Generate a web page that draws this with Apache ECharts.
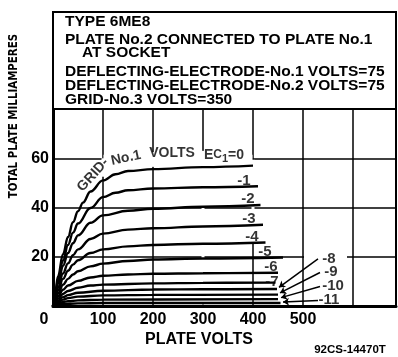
<!DOCTYPE html>
<html><head><meta charset="utf-8">
<script src="https://cdn.jsdelivr.net/npm/echarts@6/dist/echarts.min.js"></script>
<style>html,body{margin:0;padding:0;background:#fff}#c{width:398px;height:357px}</style>
</head><body><div id="c"></div>
<script>
// ---- data ----
const xTicks = [0, 100, 200, 300, 400, 500];
const yTicks = [20, 40, 60];
const gridVoltsLabels = ['0', '-1', '-2', '-3', '-4', '-5', '-6', '-7', '-8', '-9', '-10', '-11'];
const c0  = [[0,0],[5,6.5],[10,12],[20,21],[30,28],[40,34],[50,38.5],[60,42],[75,46.5],[100,51],[125,53.5],[150,54.8],[200,55.6],[300,56.4],[400,57]];
const c1  = [[0,0],[5,5.8],[10,10.5],[20,18.5],[30,24.8],[40,29.8],[50,33.5],[75,39.8],[100,44.2],[125,46],[150,47],[200,47.7],[300,48.2],[410,48.6]];
const c2  = [[0,0],[5,5],[10,9.2],[20,16.3],[30,21.5],[40,25.5],[50,28.7],[75,33.8],[100,36.8],[150,38.7],[200,39.5],[300,40.3],[415,41]];
const c3  = [[0,0],[5,4.2],[10,7.6],[20,13.2],[30,17.3],[40,20.6],[50,23],[75,27.2],[100,29.4],[150,31],[200,31.6],[300,32.3],[420,33]];
const c4  = [[0,0],[5,3.5],[10,6.4],[20,11],[30,14.3],[40,16.8],[50,18.6],[75,21.5],[100,23],[150,24.2],[200,24.8],[300,25.3],[425,25.8]];
const c5  = [[0,0],[5,2.8],[10,5.1],[20,8.6],[30,11],[40,12.8],[50,14.1],[75,16.1],[100,17.2],[150,18.3],[200,18.9],[300,19.3],[460,19.7]];
const c6  = [[0,0],[5,2.2],[10,4],[20,6.6],[30,8.3],[50,10.2],[75,11.6],[100,12.3],[150,12.8],[200,13.1],[300,13.3],[450,13.5]];
const c7  = [[0,0],[5,1.7],[10,3],[20,4.9],[30,6.1],[50,7.4],[75,8.3],[100,8.7],[200,9.2],[300,9.4],[445,9.5]];
const c8  = [[0,0],[5,1.2],[10,2.2],[20,3.6],[30,4.4],[50,5.4],[100,6.2],[200,6.7],[300,6.8],[448,6.9]];
const c9  = [[0,0],[5,0.9],[10,1.6],[20,2.6],[30,3.2],[50,3.8],[100,4.3],[200,4.5],[450,4.6]];
const c10 = [[0,0],[5,0.6],[10,1],[20,1.6],[30,1.9],[50,2.3],[100,2.6],[450,2.8]];
const c11 = [[0,0],[5,0.3],[10,0.5],[20,0.8],[50,1.05],[100,1.2],[455,1.2]];
const curves = [c0, c1, c2, c3, c4, c5, c6, c7, c8, c9, c10, c11];
// curve labels: [volts, mA, text]
const curveLabels = [[382,50.9,'-1'],[390,43.4,'-2'],[392,35.3,'-3'],[398,28,'-4'],[424,21.9,'-5'],[436,15.8,'-6'],[438,9.9,'-7'],[552,19.1,'-8'],[556,13.8,'-9'],[560,8.1,'-10'],[552,2.4,'-11']];
// leader lines: [fromV, fromMA, toV, toMA]
const leaders = [[530,19.1,452,7.6],[534,13.6,454,5.3],[534,7.9,456,3.4],[530,2.2,460,1.6]];
// "GRID-No.1 VOLTS Ec1=0" pieces: [volts, mA, text, rotation]
const gridTitle = [[80,53.2,'GRID-',48],[146,60.1,'No.1',12],[238,62.1,'VOLTS',0],[342,61.3,'E{c|C}{s|1}=0',0]];
// white areas hiding grid segments: [v0, mA0, v1, mA1]
const masks = [[101,58.6,399,61.4],[97,52.5,103,60],[197,56.5,203,62.5],[297,0.6,303,63],[397,26,403,59.4],[502,19.3,588,20.8]];
const headerLines = ['TYPE 6ME8','PLATE No.2 CONNECTED TO PLATE No.1','AT SOCKET','DEFLECTING-ELECTRODE-No.1 VOLTS=75','DEFLECTING-ELECTRODE-No.2 VOLTS=75','GRID-No.3 VOLTS=350'];

// ---- chart ----
const chart = echarts.init(document.getElementById('c'));
const FF = '"Liberation Sans", Arial, sans-serif';
const NARROW = '"Liberation Sans Narrow", "DejaVu Sans Condensed", sans-serif';
const series = [];
series.push({
  type: 'custom', z: 1, silent: true,
  encode: { x: [0, 2], y: [1, 3] },
  data: masks,
  renderItem: (params, api) => {
    const p0 = api.coord([api.value(0), api.value(3)]);
    const p1 = api.coord([api.value(2), api.value(1)]);
    return { type: 'rect', shape: { x: p0[0], y: p0[1], width: p1[0] - p0[0], height: p1[1] - p0[1] }, style: { fill: '#fff' } };
  }
});
curves.forEach((c, i) => series.push({
  type: 'line', name: gridVoltsLabels[i], data: c, z: 2, symbol: 'none',
  smooth: 0.4, smoothMonotone: 'x',
  lineStyle: { color: '#000', width: 2.4 }
}));
series.push({
  type: 'scatter', z: 4, symbolSize: 0, silent: true,
  data: curveLabels,
  label: { show: true, position: 'inside', formatter: p => p.data[2], color: '#000', fontFamily: FF, fontWeight: 'bold', fontSize: 15 }
});
series.push({
  type: 'scatter', z: 4, symbolSize: 0, silent: true,
  data: gridTitle.map(g => ({ value: [g[0], g[1]], label: { formatter: g[2], rotate: g[3] } })),
  label: { show: true, position: 'inside', color: '#000', fontFamily: FF, fontWeight: 'bold', fontSize: 14,
    rich: { c: { fontFamily: FF, fontWeight: 'bold', fontSize: 12, color: '#000' }, s: { fontFamily: FF, fontWeight: 'bold', fontSize: 11, color: '#000', padding: [7, 0, 0, 0] } } }
});
series.push({
  type: 'lines', coordinateSystem: 'cartesian2d', z: 3, silent: true,
  symbol: ['none', 'arrow'], symbolSize: 6,
  lineStyle: { color: '#000', width: 1.5, opacity: 1 },
  data: leaders.map(l => ({ coords: [[l[0], l[1]], [l[2], l[3]]] }))
});

const headerGraphic = headerLines.map((t, i) => ({
  type: 'text', z: 101,
  x: i === 2 ? 82 : 65, y: [22, 40, 53, 71.5, 86, 100][i],
  style: { text: t, fill: '#000', fontFamily: FF, fontWeight: 'bold', fontSize: 15.5, verticalAlign: 'middle', align: 'left' }
}));

chart.setOption({
  animation: false,
  backgroundColor: '#fff',
  grid: { left: 53, right: 2, top: 109, bottom: 51, containLabel: false, outerBoundsMode: 'none', show: true, borderColor: '#000', borderWidth: 2 },
  xAxis: {
    type: 'value', min: 0, max: 686, interval: 100,
    axisLine: { show: true, onZero: false, lineStyle: { color: '#000', width: 3 } },
    axisTick: { show: false },
    splitLine: { show: true, lineStyle: { color: '#000', width: 1.5 } },
    axisLabel: {
      color: '#000', fontFamily: FF, fontWeight: 'bold', fontSize: 16, margin: 6,
      formatter: v => (xTicks.indexOf(v) < 0 ? '' : (v === 0 ? '{z|0}' : String(v))),
      rich: { z: { color: '#000', fontFamily: FF, fontWeight: 'bold', fontSize: 16, padding: [0, 18, 0, 0] } }
    }
  },
  yAxis: {
    type: 'value', min: 0, max: 80, interval: 20,
    axisLine: { show: true, onZero: false, lineStyle: { color: '#000', width: 3 } },
    axisTick: { show: false },
    splitLine: { show: true, lineStyle: { color: '#000', width: 1.5 } },
    axisLabel: { color: '#000', fontFamily: FF, fontWeight: 'bold', fontSize: 16, margin: 4,
      formatter: v => (yTicks.indexOf(v) < 0 ? '' : String(v)) }
  },
  series: series,
  graphic: [
    { type: 'rect', z: 100, shape: { x: 53, y: 12, width: 343, height: 97 }, style: { fill: '#fff', stroke: '#000', lineWidth: 2 } },
    ...headerGraphic,
    { type: 'text', z: 101, x: 14, y: 116, rotation: Math.PI / 2,
      style: { text: 'TOTAL PLATE MILLIAMPERES', fill: '#000', fontFamily: NARROW, fontWeight: 'bold', fontSize: 11.4, align: 'center', verticalAlign: 'middle' } },
    { type: 'text', z: 101, x: 199, y: 340,
      style: { text: 'PLATE VOLTS', fill: '#000', fontFamily: FF, fontWeight: 'bold', fontSize: 16, align: 'center', verticalAlign: 'middle' } },
    { type: 'text', z: 101, x: 350, y: 350,
      style: { text: '92CS-14470T', fill: '#000', fontFamily: FF, fontWeight: 'bold', fontSize: 11.5, align: 'center', verticalAlign: 'middle' } }
  ]
});
</script></body></html>
